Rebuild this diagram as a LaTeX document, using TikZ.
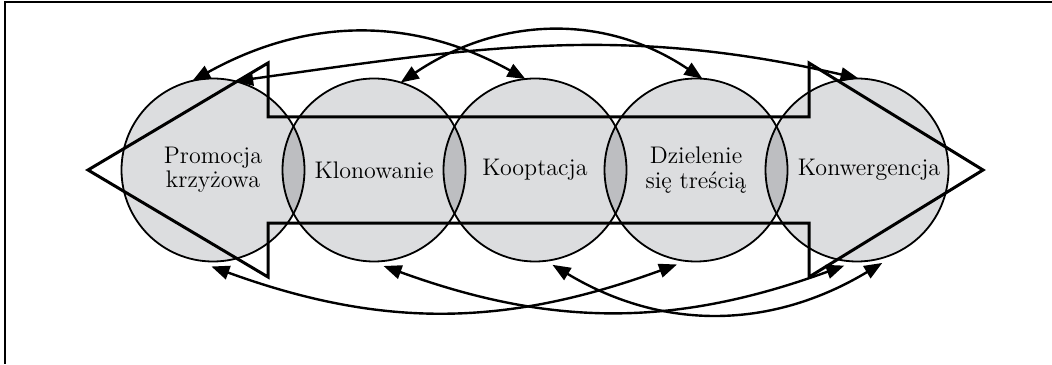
\documentclass[tikz,border=0pt]{standalone}
\usepackage{fontspec}
\usetikzlibrary{positioning,arrows.meta}
\definecolor{circfill}{RGB}{220,221,223}
\definecolor{lensfill}{RGB}{189,190,193}

\begin{document}
\begin{tikzpicture}[x=0.5pt,y=0.5pt,
    ring/.style={circle, fill=circfill, minimum size=91.5pt, inner sep=0pt, outer sep=0pt,
        align=center, font=\fontsize{12}{12.2}\selectfont},
    link/.style={line width=1.2pt, {Triangle[length=9pt,width=7pt]}-{Triangle[length=9pt,width=7pt]}},
    node distance=-11pt]
    \useasboundingbox (0,0) rectangle (1052,364);
    \draw[line width=0.7pt] (1052,362) -- (5,362) -- (5,0);
    \node[ring] (promo) at (213,194) {Promocja\\krzyżowa};
    \node[ring, right=of promo] (klon) {Klonowanie};
    \node[ring, right=of klon] (koop) {Kooptacja};
    \node[ring, right=of koop] (dziel) {Dzielenie\\się treścią};
    \node[ring, right=of dziel] (konw) {\hspace*{12pt}Konwergencja};
    \foreach \a/\b in {promo/klon, klon/koop, koop/dziel, dziel/konw} {
        \begin{scope}
            \clip (\a.center) circle[radius=45.75pt];
            \fill[lensfill] (\b.center) circle[radius=45.75pt];
        \end{scope}
    }
    \foreach \n in {promo, klon, koop, dziel, konw}
        \draw[line width=0.9pt] (\n.center) circle[radius=45.75pt];
    \draw[line width=1.5pt] (88,194) -- (268,301) -- (268,247) -- (809,247) -- (809,301)
        -- (983,194) -- (809,87) -- (809,141) -- (268,141) -- (268,87) -- cycle;
    \draw[link] (promo.103) to[out=29, in=151] (koop.96);
    \draw[link] (klon.73) to[out=34, in=146] (dziel.86);
    \draw[link] (promo.76) to[out=8, in=167] (konw.89);
    \draw[link] ([yshift=-2.5pt]promo.-91) to[out=-20, in=-160] ([yshift=-2.5pt]dziel.-102);
    \draw[link] ([yshift=-2.5pt]klon.-84) to[out=-20, in=-160] ([yshift=-2.5pt]konw.-98);
    \draw[link] ([yshift=-2.5pt]koop.-79) to[out=-31, in=-149] ([yshift=-2.5pt]konw.-74);
\end{tikzpicture}
\end{document}
